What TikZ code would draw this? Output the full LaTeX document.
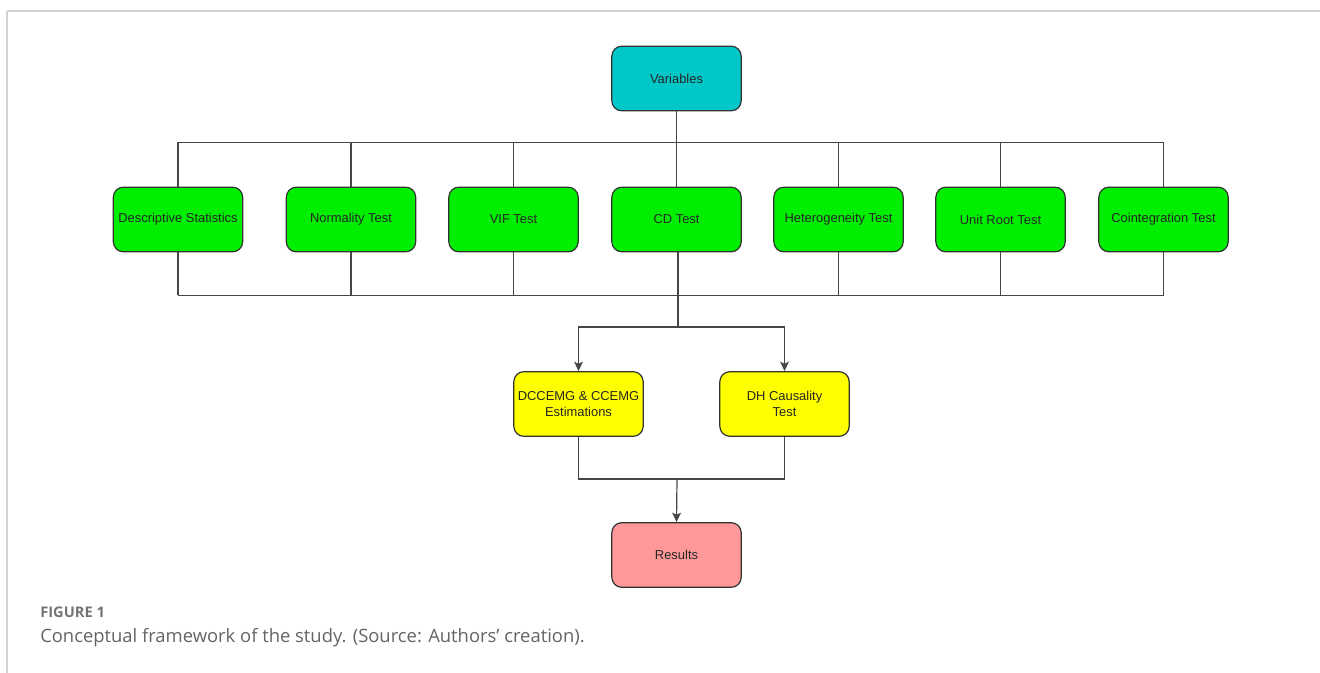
\documentclass[tikz,border=0pt]{standalone}
\usepackage{fontspec}
\setmainfont{Liberation Sans}
\newfontfamily\capfont{Open Sans}
\usetikzlibrary{arrows.meta}

\definecolor{framegray}{RGB}{210,210,210}
\definecolor{linegray}{RGB}{70,70,70}
\definecolor{boxline}{RGB}{50,50,50}
\definecolor{varfill}{RGB}{0,200,200}
\definecolor{testfill}{RGB}{0,238,0}
\definecolor{estfill}{RGB}{255,255,0}
\definecolor{resfill}{RGB}{255,153,153}
\definecolor{captext}{RGB}{100,100,100}

\begin{document}
\begin{tikzpicture}[x=0.75pt,y=0.75pt,yscale=-1,xscale=1,
	box/.style={draw=boxline, line width=0.9pt, rounded corners=7.5pt, minimum width=97pt, minimum height=48.5pt, inner sep=1pt, align=center, font=\fontsize{9.7}{11.5}\selectfont, text=black!85},
	link/.style={draw=linegray, line width=0.9pt},
	arr/.style={link, -{Stealth[length=7pt,width=6.5pt,inset=1.5pt]}}]
	\useasboundingbox (0,0) rectangle (1320,673);
	
	%Frame lines
	\draw [framegray, line width=1.5pt] (7,11) -- (1320,11) ;
	\draw [framegray, line width=1pt] (7,11) -- (7,673) ;
	
	%Shape: Rounded Rect
	\node [box, fill=varfill] (vars) at (676.5,78.5) {Variables};
	
	%Shapes: Rounded Rect (tests)
	\node [box, fill=testfill] (desc) at (178,219.5) {Descriptive Statistics};
	\node [box, fill=testfill] (norm) at (351,219.5) {Normality Test};
	\node [box, fill=testfill] (vif) at (513.5,219.5) {VIF Test};
	\node [box, fill=testfill] (cd) at (676.5,219.5) {CD Test};
	\node [box, fill=testfill] (het) at (838.5,219.5) {Heterogeneity Test};
	\node [box, fill=testfill] (unit) at (1000.5,219.5) {Unit Root Test};
	\node [box, fill=testfill] (coint) at (1163.5,219.5) {Cointegration Test};
	
	%Shapes: Rounded Rect (estimations)
	\node [box, fill=estfill] (ccemg) at (578.5,404) {DCCEMG \& CCEMG\\Estimations};
	\node [box, fill=estfill] (dh) at (784.5,404) {DH Causality\\Test};
	
	%Shape: Rounded Rect
	\node [box, fill=resfill] (res) at (676.5,555) {Results};
	
	%Bus coordinates
	\coordinate (topL) at (178,142.5);
	\coordinate (topR) at (1163.5,142.5);
	\coordinate (botL) at (178,295.5);
	\coordinate (botR) at (1163.5,295.5);
	\coordinate (split) at (678,327);
	\coordinate (merge) at (677,479);
	
	%Straight Lines: top bus
	\draw [link] (vars.south) -- (vars.south |- topL) ;
	\draw [link] (topL) -- (topR) ;
	\foreach \n in {desc,norm,vif,cd,het,unit,coint}
		\draw [link] (\n.north) -- (\n.north |- topL) ;
	
	%Straight Lines: bottom bus
	\draw [link] (botL) -- (botR) ;
	\foreach \n in {desc,norm,vif,het,unit,coint}
		\draw [link] (\n.south) -- (\n.south |- botL) ;
	\draw [link] (cd.south -| split) -- (split) ;
	
	%Arrows to estimations
	\draw [arr] (split) -| (ccemg.north) ;
	\draw [arr] (split) -| (dh.north) ;
	
	%Arrows to results
	\draw [link] (ccemg.south) |- (merge) ;
	\draw [link] (dh.south) |- (merge) ;
	\draw [arr] (merge) -- (res.north) ;
	
	% Text Node
	\node [anchor=base west, inner sep=0pt, text=captext!90, font=\capfont\fontsize{11}{13}\selectfont\bfseries] (fig) at (40,617) {FIGURE 1};
	% Text Node
	\node [anchor=base west, inner sep=0pt, text=captext, font=\capfont\fontsize{13.8}{16}\selectfont] (cap) at (40,642) {Conceptual framework of the study. (Source: Authors’ creation).};
	
\end{tikzpicture}
\end{document}
